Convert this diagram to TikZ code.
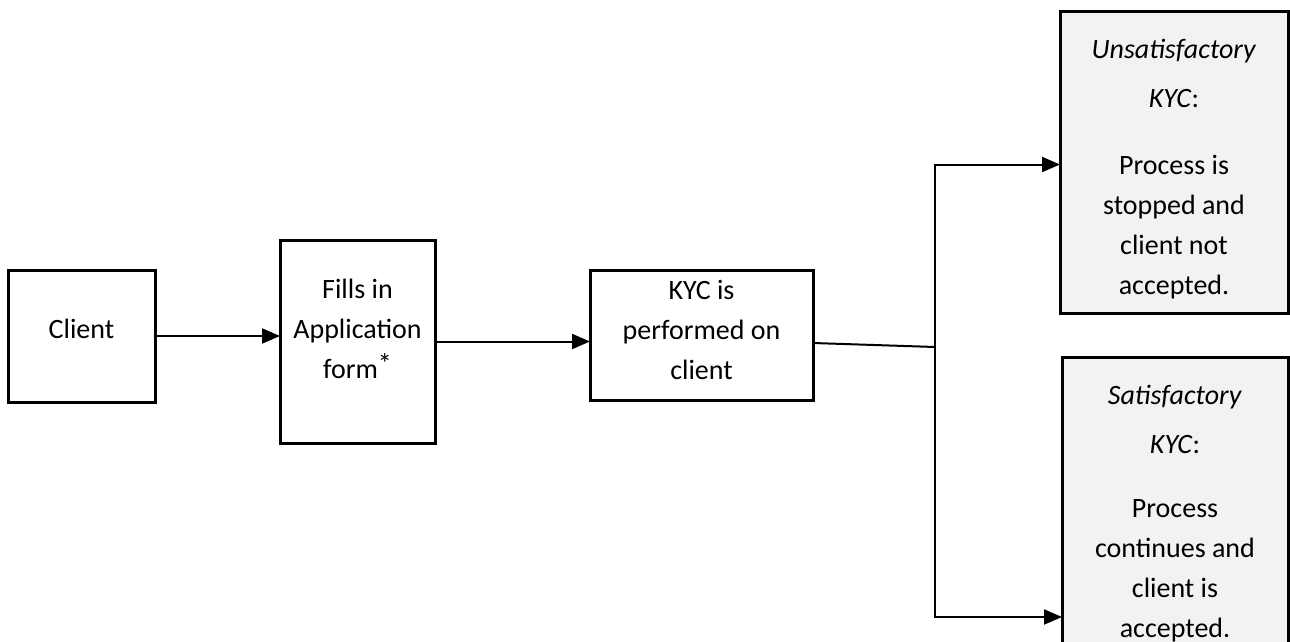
\documentclass[tikz,border=0pt]{standalone}
\usepackage{fontspec}
\setmainfont{Carlito}
\usepackage{tikz}
\usetikzlibrary{calc, positioning, arrows.meta}

\begin{document}
\begin{tikzpicture}[x=1pt, y=-1pt,
  stage/.style={draw=black, line width=3pt, inner sep=0pt, outer sep=0pt, align=center, font=\fontsize{28}{40}\selectfont},
  result/.style={stage, fill=gray!10},
  link/.style={line width=2pt, -{Triangle[length=18pt, width=15pt]}}]
  \useasboundingbox (0,0) rectangle (1290,642);

  \node[stage, minimum width=147pt, minimum height=132pt] (client) at (81.5,336) {Client\\[-26pt]};
  \node[stage, minimum width=155pt, minimum height=203pt] (fills) at (357.5,341.5) {Fills in\\Application\\form\raisebox{5pt}{*}\\[-15pt]};
  \node[stage, minimum width=223pt, minimum height=130pt] (kyc) at (701.5,335) {KYC is\\performed on\\client\\[-30pt]};

  \node[result, minimum width=228pt, minimum height=301pt] (unsat) at (1174,162.5)
    {\rule{0pt}{33pt}\textit{Unsatisfactory}\\[9pt]\textit{KYC}:\\[27pt]Process is\\stopped and\\client not\\accepted.};
  \node[result, minimum width=226pt, minimum height=300pt] (sat) at (1175,507)
    {\rule{0pt}{33pt}\textit{Satisfactory}\\[9pt]\textit{KYC}:\\[24pt]Process\\continues and\\client is\\accepted.};

  \coordinate (split) at (935,347);

  \draw[link] (client.east) -- (client.east -| fills.west);
  \draw[link] (fills.east) -- (fills.east -| kyc.west);
  \draw[line width=2pt] ($(kyc.east)+(0,8)$) -- (split);
  \draw[link] (split) |- ([yshift=-2pt]unsat.west);
  \draw[link] (split) |- ($(sat.north west)+(0,260)$);
\end{tikzpicture}
\end{document}
